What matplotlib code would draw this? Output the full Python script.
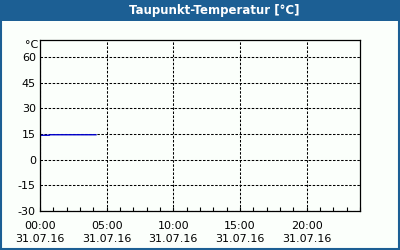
import matplotlib
matplotlib.use("Agg")
import matplotlib.pyplot as plt
from matplotlib.patches import Rectangle
from matplotlib.ticker import MultipleLocator, FixedLocator
import numpy as np

# dew point readings, hours since 00:00 on 31.07.16
hours = [0.0, 0.7, 0.75, 1.5, 2.5, 3.5, 4.2]
dewpoint = [14.3, 14.3, 14.6, 14.6, 14.6, 14.6, 14.6]

x_ticks = [0, 5, 10, 15, 20]
x_labels = ["00:00\n31.07.16", "05:00\n31.07.16", "10:00\n31.07.16",
            "15:00\n31.07.16", "20:00\n31.07.16"]
y_ticks = [-30, -15, 0, 15, 30, 45, 60]

blue = "#1c5f94"
bg = "#fbfffb"

plt.rcParams["font.family"] = "DejaVu Sans"
fig = plt.figure(figsize=(4, 2.5), dpi=100, facecolor=bg)
ax = fig.add_axes([0.1, 0.156, 0.8, 0.684], facecolor=bg)

ax.plot(hours, dewpoint, color="#0000cc", linewidth=1.0)

ax.set_xlim(0, 24)
ax.set_ylim(-30, 70)
ax.xaxis.set_major_locator(FixedLocator(x_ticks))
ax.xaxis.set_minor_locator(MultipleLocator(1))
ax.set_xticklabels(x_labels, fontsize=8, linespacing=1.4)
ax.set_yticks(y_ticks)
ax.set_yticklabels([str(v) for v in y_ticks], fontsize=8)

ax.tick_params(axis="x", which="both", direction="in", length=3, width=0.8, pad=7)
ax.tick_params(axis="y", length=0, pad=3)
ax.grid(True, which="major", color="black", linestyle=(0, (2.4, 1.5)), linewidth=0.75)
for s in ax.spines.values():
    s.set_linewidth(0.9)
    s.set_color("black")

fig.text(0.062, 0.82, "°C", fontsize=8, ha="left", va="center")

# title bar and frame
fig.patches.append(Rectangle((0, 0.918), 1, 0.082, transform=fig.transFigure,
                             facecolor=blue, edgecolor="none", zorder=0))
fig.patches.append(Rectangle((0.002, 0.003), 0.995, 0.995, transform=fig.transFigure,
                             facecolor="none", edgecolor=blue, linewidth=1.5, zorder=5))
fig.text(0.535, 0.959, "Taupunkt-Temperatur [°C]", color="white", fontsize=8.5,
         fontweight="bold", ha="center", va="center")

fig.savefig("out.png", dpi=100, facecolor=bg)
